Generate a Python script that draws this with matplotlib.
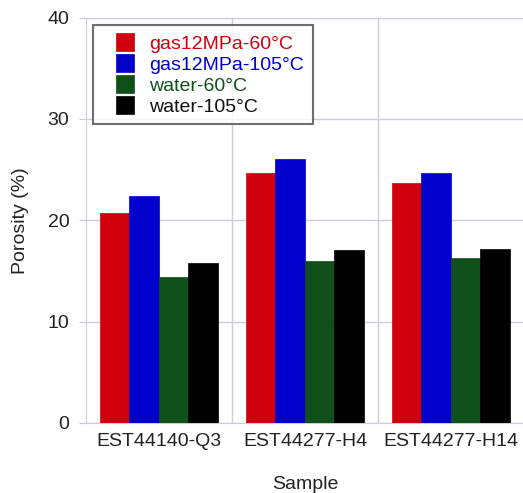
import numpy as np
import matplotlib.pyplot as plt
from matplotlib.patches import Rectangle
from matplotlib.legend_handler import HandlerPatch

plt.rcParams['font.family'] = ['Liberation Sans', 'DejaVu Sans']

samples = ['EST44140-Q3', 'EST44277-H4', 'EST44277-H14']
series = ['gas12MPa-60°C', 'gas12MPa-105°C', 'water-60°C', 'water-105°C']
gas_60 = [20.7, 24.7, 23.7]
gas_105 = [22.4, 26.0, 24.7]
water_60 = [14.4, 16.0, 16.3]
water_105 = [15.8, 17.1, 17.2]
colors = ['#d0000f', '#0000cc', '#0f4f1a', '#000000']

values = [gas_60, gas_105, water_60, water_105]

fig = plt.figure(figsize=(5.23, 4.93), dpi=100)
ax = fig.add_axes([0.1644, 0.142, 0.8375, 0.8225])

x = np.arange(len(samples)) + 0.5
width = 0.202
for i, (vals, c) in enumerate(zip(values, colors)):
    ax.bar(x + (i - 1.5) * width, vals, width, color=c,
           edgecolor=c, linewidth=0.5, zorder=3)

ax.set_xlim(0, 3)
ax.set_ylim(0, 40)
ax.set_yticks([0, 10, 20, 30, 40])
ax.set_xticks(x)
ax.set_xticklabels(samples)
ax.set_xticks([1, 2], minor=True)

grid_c = '#cdcdd8'
ax.grid(True, axis='y', which='major', color=grid_c, lw=1, zorder=0)
ax.grid(True, axis='x', which='minor', color=grid_c, lw=1, zorder=0)
for s in ax.spines.values():
    s.set_color(grid_c)
ax.tick_params(axis='x', which='both', length=0, labelsize=14, pad=7,
               colors='#222222')
ax.tick_params(axis='y', length=5, color=grid_c, labelsize=14, pad=7,
               labelcolor='#222222')

ax.set_xlabel('Sample', fontsize=14, color='#222222', labelpad=19)
ax.set_ylabel('Porosity (%)', fontsize=14, color='#222222', labelpad=13)


# square swatch pushed to the right side of the handle box
def square(legend, orig_handle, xdescent, ydescent, width, height, fontsize):
    side = 13.0
    return Rectangle((-xdescent + width - side, -ydescent + (height - side) / 2),
                     side, side)


proxies = [Rectangle((0, 0), 1, 1, facecolor=c, edgecolor=c, lw=0.5) for c in colors]
leg = ax.legend(proxies, series, loc='upper left', bbox_to_anchor=(0.016, 0.982),
                fontsize=14, frameon=True, fancybox=False, handlelength=1.65,
                handleheight=0.95, handletextpad=0.8, labelspacing=0.1,
                borderpad=0.45, borderaxespad=0,
                handler_map={Rectangle: HandlerPatch(patch_func=square)})
leg.get_frame().set_edgecolor('#4a4a4a')
leg.get_frame().set_linewidth(1.5)
for t, c in zip(leg.get_texts(), colors):
    t.set_color(c if c != '#000000' else '#111111')
leg.set_zorder(5)

fig.savefig('out.png', dpi=100)
